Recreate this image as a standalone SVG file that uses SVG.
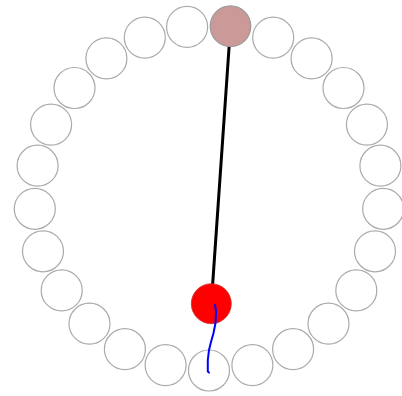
<svg xmlns="http://www.w3.org/2000/svg" width="402" height="396" viewBox="0 0 402 396">
<style>
.ring{fill:#ffffff;stroke:#aaaaaa;stroke-width:1.2}
.sel{fill:#cc9999;stroke:#999999;stroke-width:1.2}
.bob{fill:#ff0000;stroke:#cc3333;stroke-width:0.8}
.rod{stroke:#000000;stroke-width:3;fill:none;stroke-linecap:round}
.trail{stroke:#0000ff;stroke-width:2;fill:none;stroke-linejoin:round;stroke-linecap:round}
</style>
<rect width="402" height="396" fill="#ffffff"/>
<g id="ring">
<g id="n0"><circle class="ring" cx="209" cy="370.5" r="20.5"/></g>
<g id="n1"><circle class="ring" cx="252.4" cy="365.1" r="20.5"/></g>
<g id="n2"><circle class="ring" cx="293.1" cy="349.2" r="20.5"/></g>
<g id="n3"><circle class="ring" cx="328.5" cy="323.7" r="20.5"/></g>
<g id="n4"><circle class="ring" cx="356.3" cy="290.4" r="20.5"/></g>
<g id="n5"><circle class="ring" cx="375" cy="251.3" r="20.5"/></g>
<g id="n6"><circle class="ring" cx="383.2" cy="208.8" r="20.5"/></g>
<g id="n7"><circle class="ring" cx="380.4" cy="165.7" r="20.5"/></g>
<g id="n8"><circle class="ring" cx="366.9" cy="124.6" r="20.5"/></g>
<g id="n9"><circle class="ring" cx="343.5" cy="88" r="20.5"/></g>
<g id="n10"><circle class="ring" cx="311.6" cy="58.4" r="20.5"/></g>
<g id="n11"><circle class="ring" cx="273.2" cy="37.6" r="20.5"/></g>
<g id="n13"><circle class="ring" cx="187.1" cy="26.9" r="20.5"/></g>
<g id="n14"><circle class="ring" cx="144.8" cy="37.6" r="20.5"/></g>
<g id="n15"><circle class="ring" cx="106.4" cy="58.4" r="20.5"/></g>
<g id="n16"><circle class="ring" cx="74.5" cy="88" r="20.5"/></g>
<g id="n17"><circle class="ring" cx="51.1" cy="124.6" r="20.5"/></g>
<g id="n18"><circle class="ring" cx="37.6" cy="165.7" r="20.5"/></g>
<g id="n19"><circle class="ring" cx="34.8" cy="208.8" r="20.5"/></g>
<g id="n20"><circle class="ring" cx="43" cy="251.3" r="20.5"/></g>
<g id="n21"><circle class="ring" cx="61.7" cy="290.4" r="20.5"/></g>
<g id="n22"><circle class="ring" cx="89.5" cy="323.7" r="20.5"/></g>
<g id="n23"><circle class="ring" cx="124.9" cy="349.2" r="20.5"/></g>
<g id="n24"><circle class="ring" cx="165.6" cy="365.1" r="20.5"/></g>
</g>
<g id="connectors">
<line class="rod" x1="230.5" y1="26.5" x2="211.3" y2="303.7"/>
</g>
<g id="n12"><circle class="sel" cx="230.5" cy="26.2" r="20.3"/></g>
<g id="bob"><circle class="bob" cx="211.3" cy="303.7" r="20"/></g>
<g id="trail">
<path class="trail" d="M215,305 L216,312 L215.5,323 L213.5,333 L211,342 L209,350 L207.8,360 L207.8,371.5 L209,372.5"/>
</g>
</svg>
